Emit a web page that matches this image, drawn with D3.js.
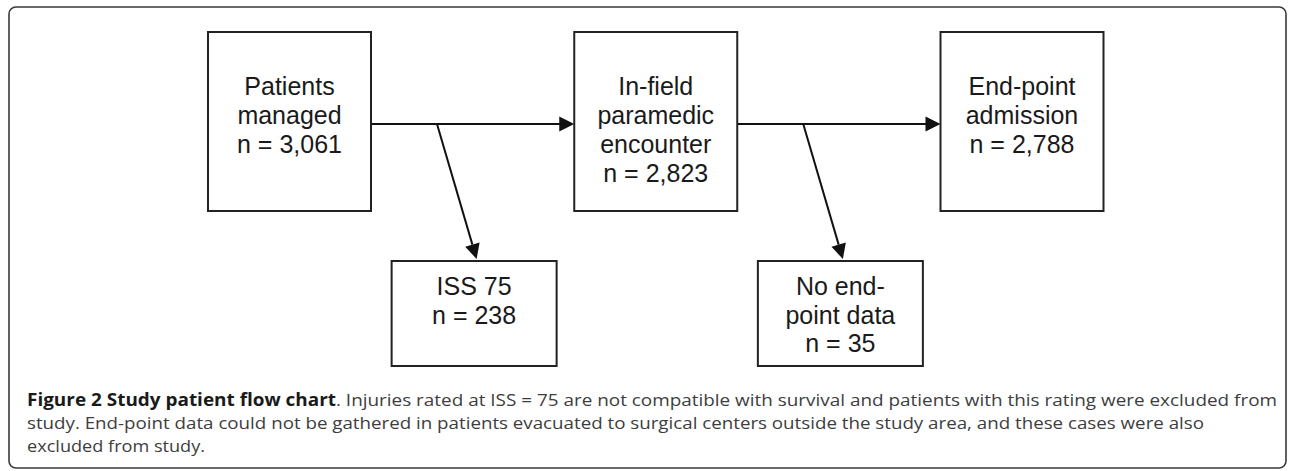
<!DOCTYPE html>
<html>
<head>
<meta charset="utf-8">
<script src="https://cdn.jsdelivr.net/npm/d3@7"></script>
<style>
  html, body { margin: 0; padding: 0; background: #fff; }
  svg { display: block; }
</style>
</head>
<body>
<svg id="chart" width="1292" height="471"></svg>
<script>
// ---- data ----
const stepLabels = [["Patients", "managed"], ["In-field", "paramedic", "encounter"], ["End-point", "admission"]];
const stepCounts = [3061, 2823, 2788];
const excludedLabels = [["ISS 75"], ["No end-", "point data"]];
const excludedCounts = [238, 35];
const captionBold = "Figure 2 Study patient flow chart";
const captionLines = [
  ". Injuries rated at ISS = 75 are not compatible with survival and patients with this rating were excluded from",
  "study. End-point data could not be gathered in patients evacuated to surgical centers outside the study area, and these cases were also",
  "excluded from study."
];

// ---- layout ----
const svg = d3.select("#chart");
const fmt = d3.format(",");

const x = d3.scaleLinear().domain([0, stepCounts.length - 1]).range([289.5, 1022]);
const mainTop = 32, mainH = 179, mainW = 163;
const exTop = 261, exH = 105, exW = 165;
const flowY = 124;
const lineH = 29;
const boxFont = "'Liberation Sans', Arial, sans-serif";

// outer frame
svg.append("rect")
  .attr("x", 9).attr("y", 7).attr("width", 1277).attr("height", 461)
  .attr("rx", 7).attr("ry", 7)
  .attr("fill", "none").attr("stroke", "#3a3a3a").attr("stroke-width", 1.6);

function arrowHead(g, x1, y1, x2, y2) {
  const ang = Math.atan2(y2 - y1, x2 - x1);
  const len = 15, half = 7.5;
  const bx = x2 - len * Math.cos(ang), by = y2 - len * Math.sin(ang);
  const px = -Math.sin(ang) * half, py = Math.cos(ang) * half;
  g.append("path")
    .attr("d", `M${x2},${y2}L${bx + px},${by + py}L${bx - px},${by - py}Z`)
    .attr("fill", "#111");
  return [bx, by];
}

const gArrows = svg.append("g");
const gBoxes = svg.append("g");

// main steps
const steps = stepCounts.map((c, i) => ({ i, lines: stepLabels[i].concat(["n = " + fmt(c)]) }));
const mainG = gBoxes.selectAll("g.main").data(steps).join("g").attr("class", "main");
mainG.append("rect")
  .attr("x", d => x(d.i) - mainW / 2).attr("y", mainTop)
  .attr("width", mainW).attr("height", mainH)
  .attr("fill", "#fff").attr("stroke", "#222").attr("stroke-width", 2);
mainG.each(function (d) {
  const t = d3.select(this).append("text")
    .attr("text-anchor", "middle")
    .attr("font-family", boxFont).attr("font-size", 25).attr("fill", "#1a1a1a");
  d.lines.forEach((ln, k) => {
    t.append("tspan").attr("x", x(d.i)).attr("y", mainTop + 63 + k * lineH).text(ln);
  });
});

// horizontal arrows between main steps
for (let i = 0; i < stepCounts.length - 1; i++) {
  const x1 = x(i) + mainW / 2, x2 = x(i + 1) - mainW / 2;
  const [bx] = arrowHead(gArrows, x1, flowY, x2, flowY);
  gArrows.append("line").attr("x1", x1).attr("y1", flowY).attr("x2", bx + 1).attr("y2", flowY)
    .attr("stroke", "#111").attr("stroke-width", 2);
}

// excluded boxes
const excl = excludedCounts.map((c, i) => ({ i, cx: x(i + 0.5) + 1.5, lines: excludedLabels[i].concat(["n = " + fmt(c)]) }));
const exG = gBoxes.selectAll("g.ex").data(excl).join("g").attr("class", "ex");
exG.append("rect")
  .attr("x", d => d.cx - exW / 2).attr("y", exTop)
  .attr("width", exW).attr("height", exH)
  .attr("fill", "#fff").attr("stroke", "#222").attr("stroke-width", 2);
exG.each(function (d) {
  const t = d3.select(this).append("text")
    .attr("text-anchor", "middle")
    .attr("font-family", boxFont).attr("font-size", 25).attr("fill", "#1a1a1a");
  d.lines.forEach((ln, k) => {
    t.append("tspan").attr("x", d.cx).attr("y", exTop + 34 + k * 28.5).text(ln);
  });
});

// diagonal arrows to excluded boxes
excl.forEach(d => {
  const sx = x(d.i) + mainW / 2 + 66;
  const tx = d.cx + 2.5, ty = exTop - 2;
  const [bx, by] = arrowHead(gArrows, sx, flowY, tx, ty);
  gArrows.append("line").attr("x1", sx).attr("y1", flowY).attr("x2", bx).attr("y2", by)
    .attr("stroke", "#111").attr("stroke-width", 2);
});

// caption
const capFont = "'Open Sans', 'Noto Sans', sans-serif";
const capX = 27, capSize = 17;
const capBase = [406, 429, 452];
const capEnds = [1277, 1204, 205];
const boldEnd = 336;

const cap = svg.append("g").attr("font-family", capFont).attr("font-size", capSize);
cap.append("text").attr("x", capX).attr("y", capBase[0])
  .attr("font-weight", 700).attr("fill", "#1a1a1a")
  .attr("textLength", boldEnd - capX).attr("lengthAdjust", "spacingAndGlyphs")
  .text(captionBold);
captionLines.forEach((ln, k) => {
  const sx = k === 0 ? boldEnd : capX;
  cap.append("text").attr("x", sx).attr("y", capBase[k])
    .attr("fill", "#3d3d3d")
    .attr("textLength", capEnds[k] - sx).attr("lengthAdjust", "spacingAndGlyphs")
    .text(ln);
});
</script>
</body>
</html>
